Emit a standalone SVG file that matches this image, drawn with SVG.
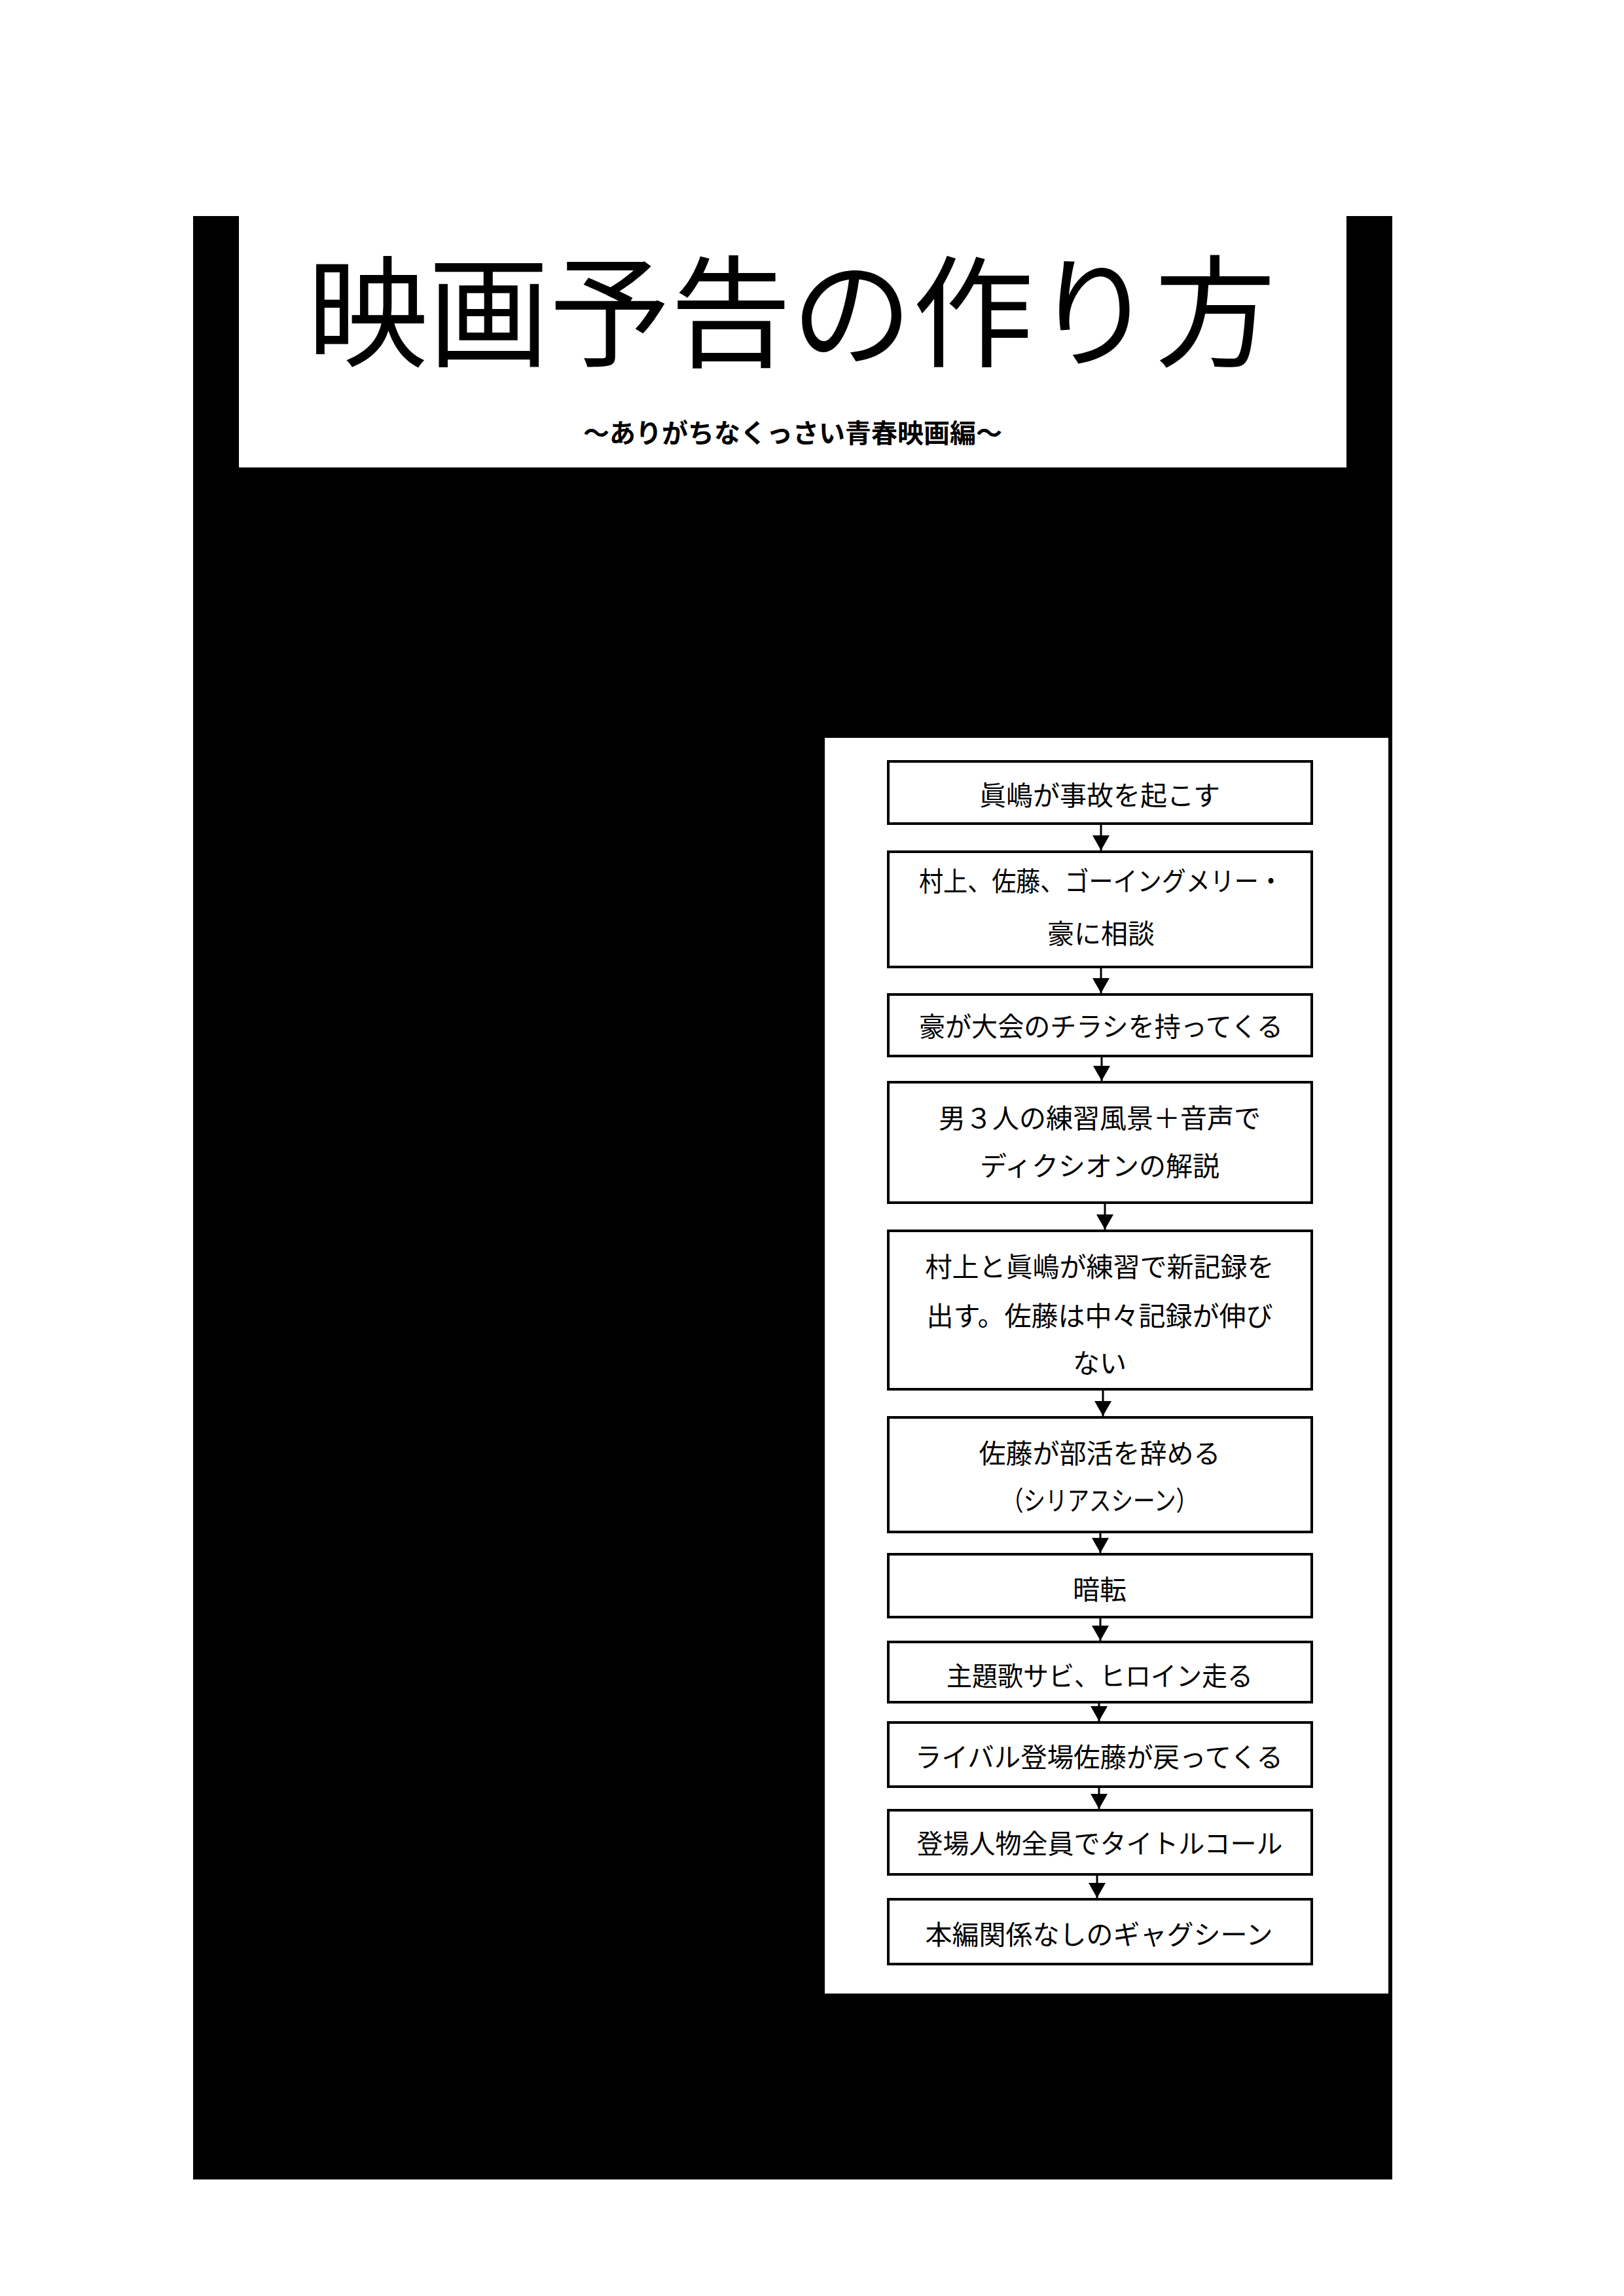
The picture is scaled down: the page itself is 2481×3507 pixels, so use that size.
<svg xmlns="http://www.w3.org/2000/svg" width="2481" height="3507" viewBox="0 0 2481 3507">
  <style>
    .jp { font-family: "Liberation Sans", "Noto Sans CJK JP", sans-serif; fill: #000; text-anchor: middle; }
    .title { font-size: 185px; }
    .sub { font-size: 40px; font-weight: bold; }
    .lbl { font-size: 41px; }
    .box { fill: #fff; stroke: #000; stroke-width: 4; }
    .conn { stroke: #000; stroke-width: 3; fill: none; marker-end: url(#arrow); }
  </style>
  <defs>
    <marker id="arrow" viewBox="0 0 23 26" refX="23" refY="13" markerWidth="23" markerHeight="26" orient="auto" markerUnits="userSpaceOnUse">
      <path d="M0,0 L23,13 L0,26 Z" fill="#000"/>
    </marker>
  </defs>
  <rect x="0" y="0" width="2481" height="3507" fill="#fff"/>
  <rect id="background" x="295" y="330" width="1832" height="2999" fill="#000"/>

  <g id="title-panel">
    <rect x="365" y="330" width="1692" height="384" fill="#fff"/>
    <text class="jp title" x="1209" y="546">映画予告の作り方</text>
    <text class="jp sub" x="1211" y="676">～ありがちなくっさい青春映画編～</text>
  </g>

  <rect id="flow-panel" x="1260" y="1127" width="861" height="1918" fill="#fff"/>

  <g id="connectors">
    <line class="conn" x1="1682" y1="1260" x2="1682" y2="1299"/>
    <line class="conn" x1="1682" y1="1479" x2="1682" y2="1517"/>
    <line class="conn" x1="1683" y1="1615" x2="1683" y2="1651"/>
    <line class="conn" x1="1688" y1="1839" x2="1688" y2="1878"/>
    <line class="conn" x1="1685" y1="2124" x2="1685" y2="2163"/>
    <line class="conn" x1="1681" y1="2342" x2="1681" y2="2372"/>
    <line class="conn" x1="1681" y1="2472" x2="1681" y2="2506"/>
    <line class="conn" x1="1679" y1="2602" x2="1679" y2="2629"/>
    <line class="conn" x1="1679" y1="2731" x2="1679" y2="2763"/>
    <line class="conn" x1="1676" y1="2865" x2="1676" y2="2899"/>
  </g>

  <g id="n1">
    <rect class="box" x="1357" y="1163" width="647" height="95"/>
    <text class="jp lbl" x="1680" y="1230">眞嶋が事故を起こす</text>
  </g>
  <g id="n2">
    <rect class="box" x="1357" y="1301" width="647" height="176"/>
    <text class="jp lbl" x="1682" y="1361" textLength="556" lengthAdjust="spacingAndGlyphs">村上、佐藤、ゴーイングメリー・</text>
    <text class="jp lbl" x="1682" y="1441">豪に相談</text>
  </g>
  <g id="n3">
    <rect class="box" x="1357" y="1519" width="647" height="94"/>
    <text class="jp lbl" x="1682" y="1583" textLength="556" lengthAdjust="spacingAndGlyphs">豪が大会のチラシを持ってくる</text>
  </g>
  <g id="n4">
    <rect class="box" x="1357" y="1653" width="647" height="184"/>
    <text class="jp lbl" x="1680" y="1723">男３人の練習風景＋音声で</text>
    <text class="jp lbl" x="1680" y="1796">ディクシオンの解説</text>
  </g>
  <g id="n5">
    <rect class="box" x="1357" y="1880" width="647" height="242"/>
    <text class="jp lbl" x="1680" y="1950">村上と眞嶋が練習で新記録を</text>
    <text class="jp lbl" x="1680" y="2025">出す。佐藤は中々記録が伸び</text>
    <text class="jp lbl" x="1680" y="2097">ない</text>
  </g>
  <g id="n6">
    <rect class="box" x="1357" y="2165" width="647" height="175"/>
    <text class="jp lbl" x="1680" y="2235">佐藤が部活を辞める</text>
    <text class="jp lbl" x="1680" y="2307" textLength="300" lengthAdjust="spacingAndGlyphs">（シリアスシーン）</text>
  </g>
  <g id="n7">
    <rect class="box" x="1357" y="2374" width="647" height="96"/>
    <text class="jp lbl" x="1680" y="2443">暗転</text>
  </g>
  <g id="n8">
    <rect class="box" x="1357" y="2508" width="647" height="92"/>
    <text class="jp lbl" x="1680" y="2575" textLength="468" lengthAdjust="spacingAndGlyphs">主題歌サビ、ヒロイン走る</text>
  </g>
  <g id="n9">
    <rect class="box" x="1357" y="2631" width="647" height="98"/>
    <text class="jp lbl" x="1679" y="2699" textLength="562" lengthAdjust="spacingAndGlyphs">ライバル登場佐藤が戻ってくる</text>
  </g>
  <g id="n10">
    <rect class="box" x="1357" y="2765" width="647" height="98"/>
    <text class="jp lbl" x="1680" y="2831" textLength="559" lengthAdjust="spacingAndGlyphs">登場人物全員でタイトルコール</text>
  </g>
  <g id="n11">
    <rect class="box" x="1357" y="2901" width="647" height="99"/>
    <text class="jp lbl" x="1679" y="2970">本編関係なしのギャグシーン</text>
  </g>
</svg>
